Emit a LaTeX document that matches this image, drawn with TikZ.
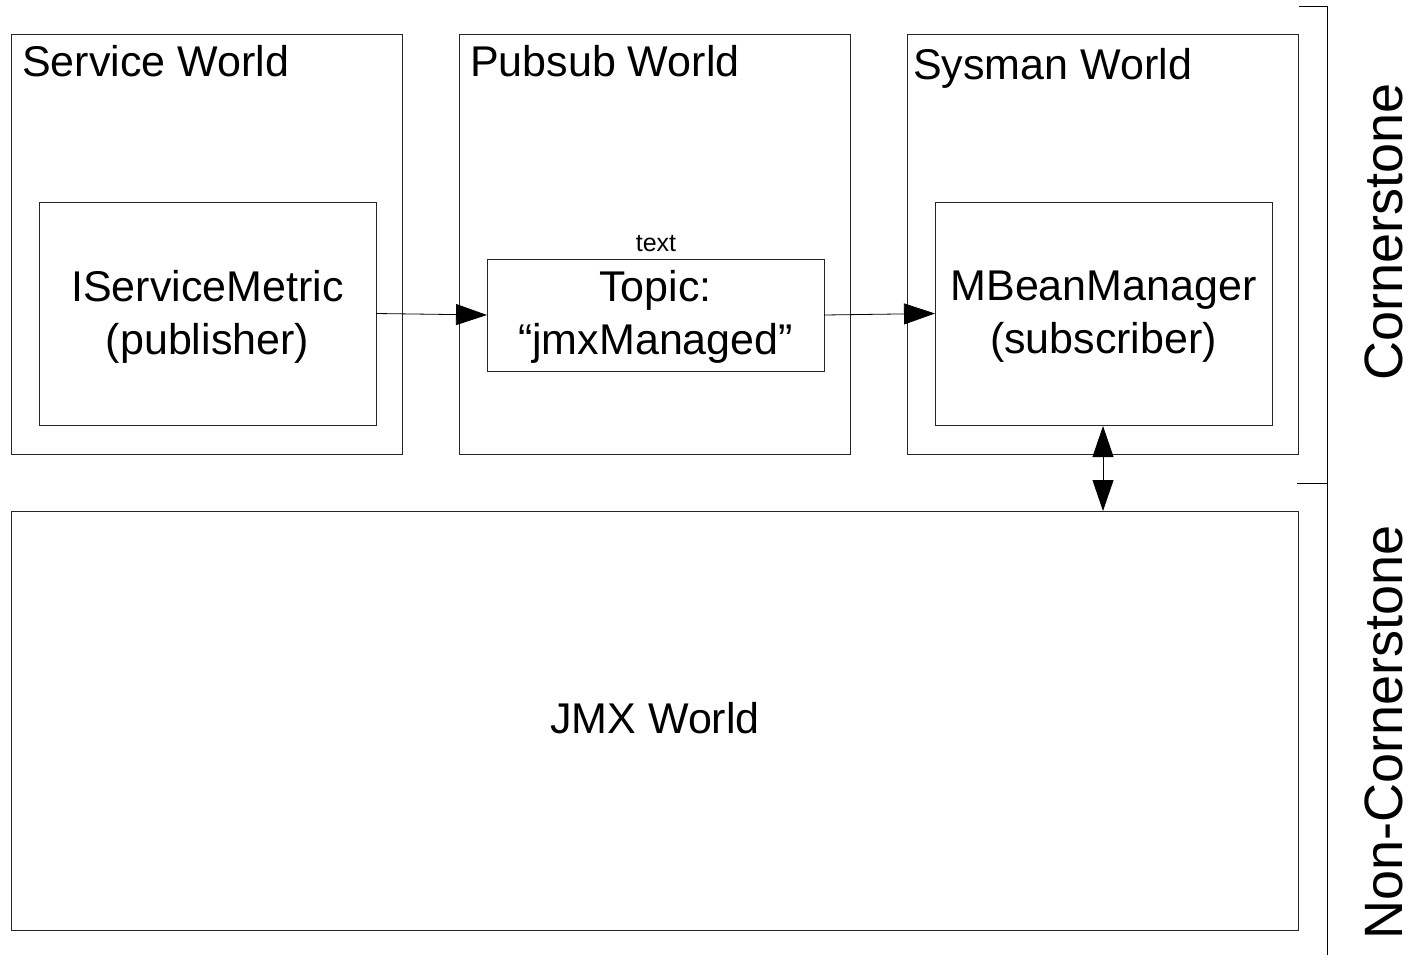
\documentclass[tikz,border=0pt]{standalone}
\usepackage{fontspec}
\setmainfont{Liberation Sans}
\usetikzlibrary{arrows.meta}
\begin{document}
\begin{tikzpicture}[x=1pt,y=-1pt,
  box/.style={draw=black!85,line width=1pt,anchor=north west,inner sep=0pt,outer sep=0pt},
  title/.style={anchor=base west,inner sep=0pt,font=\fontsize{43}{53}\selectfont},
  inner/.style={align=center,inner sep=0pt,font=\fontsize{43}{53}\selectfont},
  side/.style={rotate=90,inner sep=0pt,font=\fontsize{54}{66}\selectfont},
  arr/.style={line width=0.8pt,-{Triangle[length=31pt,width=21pt]}},
  darr/.style={line width=0.8pt,{Triangle[length=31pt,width=21pt]}-{Triangle[length=31pt,width=21pt]}}]
\useasboundingbox (0,0) rectangle (1412,955);
% outer worlds
\node[box,minimum width=391pt,minimum height=419pt] (svc) at (11,35) {};
\node[box,minimum width=391pt,minimum height=419pt] (pub) at (459,35) {};
\node[box,minimum width=391pt,minimum height=419pt] (sys) at (907,35) {};
\node[box,minimum width=1287pt,minimum height=419pt] (jmx) at (11,511) {};
\node[title] (svct) at (22,77) {Service World};
\node[title] (pubt) at (470,77) {Pubsub World};
\node[title] (syst) at (913,80) {Sysman World};
\node[inner] (jmxt) at (655,718) {JMX World};
% inner boxes
\node[box,minimum width=337pt,minimum height=223pt] (ism) at (39,202) {};
\node[box,minimum width=337pt,minimum height=112pt] (topic) at (487,259) {};
\node[box,minimum width=337pt,minimum height=223pt] (mbm) at (935,202) {};
\node[inner] (ismt) at ([yshift=-3pt]ism.center) {IServiceMetric\\(publisher)};
\node[inner] (topict) at ([yshift=-2pt]topic.center) {Topic:\\“jmxManaged”};
\node[inner] (mbmt) at ([yshift=-3pt]mbm.center) {MBeanManager\\(subscriber)};
\node[inner sep=0pt,anchor=base,font=\fontsize{25}{30}\selectfont] (txt) at (656,251) {text};
% arrows
\draw[arr] (ism.east) -- (topic.west);
\draw[arr] (topic.east) -- (mbm.west);
\coordinate (mb) at (1103,426);
\coordinate (jt) at (1103,511);
\draw[darr] (mb) -- (jt);
% bracket
\coordinate (b1) at (1299,7);
\coordinate (b2) at (1327,7);
\coordinate (b3) at (1327,955);
\coordinate (m1) at (1297,483);
\coordinate (m2) at (1327,483);
\draw[line width=1pt] (b1) -- (b2) -- (b3);
\draw[line width=1pt] (m1) -- (m2);
\node[side] (corn) at (1384,232) {Cornerstone};
\node[side] (ncorn) at (1384,732) {Non-Cornerstone};
\end{tikzpicture}
\end{document}
